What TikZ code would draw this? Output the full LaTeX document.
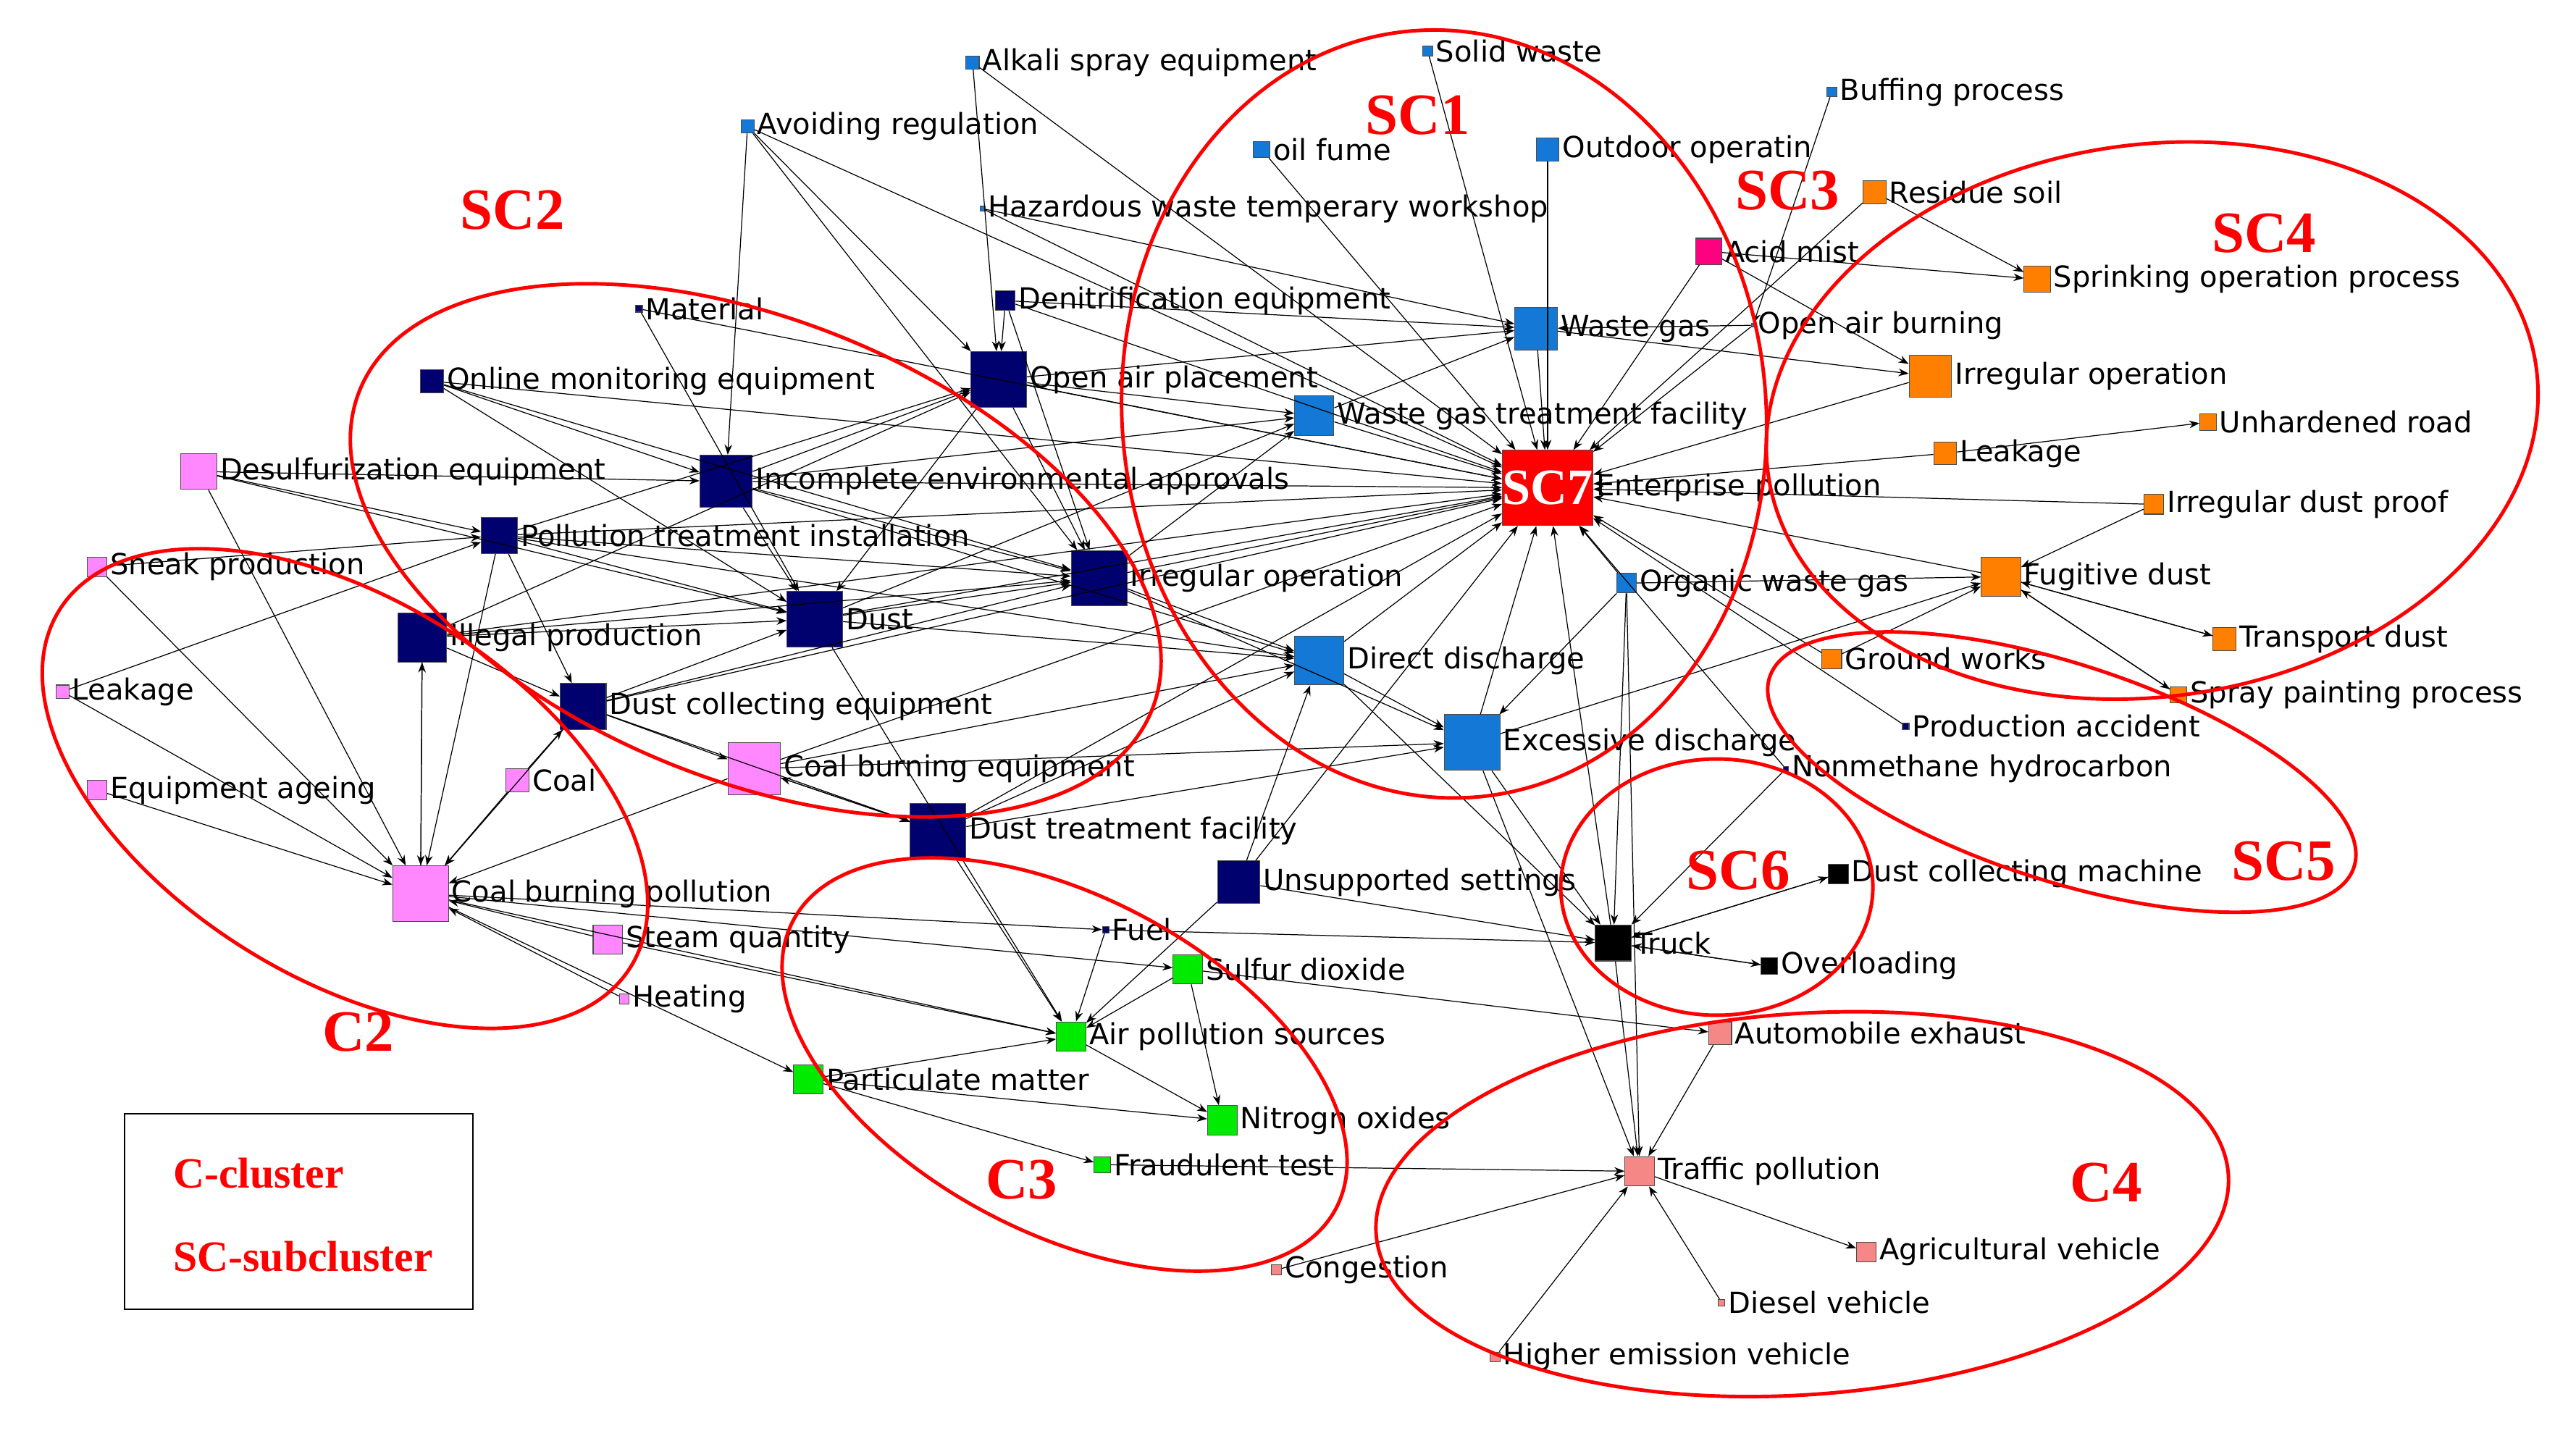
\documentclass[tikz,border=0pt]{standalone}
\usepackage{fontspec}
\setmainfont{DejaVu Sans}
\newfontfamily\ser{Liberation Serif}
\usetikzlibrary{arrows.meta}
\definecolor{cb}{RGB}{20,120,215}
\definecolor{cn}{RGB}{0,0,110}
\definecolor{cp}{RGB}{255,135,255}
\definecolor{co}{RGB}{255,128,0}
\definecolor{cm}{RGB}{255,0,128}
\definecolor{cg}{RGB}{0,235,0}
\definecolor{cs}{RGB}{245,135,135}
\definecolor{cr}{RGB}{255,0,0}
\tikzset{
 nd/.style 2 args={rectangle,fill=#1,draw=black!70,line width=0.3pt,minimum size=#2*0.643pt,inner sep=0pt},
 lab/.style={font=\fontsize{11.4}{13}\selectfont,inner sep=1pt},
 e/.style={line width=0.35pt,-{Stealth[length=4pt,width=3pt]}},
 cl/.style={draw=cr,line width=1.4pt},
 cll/.style={text=cr,font=\ser\bfseries\fontsize{23}{26}\selectfont},
}
\newcommand{\nn}[6]{\node[nd={#4}{#5},label={[lab]right:#6}] (#1) at (#2,#3) {};}
\begin{document}
\begin{tikzpicture}[x=0.02268cm,y=-0.02268cm]
\useasboundingbox (0,0) rectangle (1568,874);
\nn{alkali}{592}{38}{cb}{8}{Alkali spray equipment}
\nn{avoid}{455}{77}{cb}{8}{Avoiding regulation}
\nn{solid}{869}{31}{cb}{6}{Solid waste}
\nn{oil}{768}{91}{cb}{10}{oil fume}
\nn{outdoor}{942}{91}{cb}{14}{Outdoor operatin}
\nn{buff}{1115}{56}{cb}{6}{Buffing process}
\nn{hazard}{598}{127}{cb}{3}{Hazardous waste temperary workshop}
\nn{residue}{1141}{117}{co}{14}{Residue soil}
\nn{acid}{1040}{153}{cm}{16}{Acid mist}
\nn{sprink}{1240}{170}{co}{16}{Sprinking operation process}
\nn{material}{389}{188}{cn}{4}{Material}
\nn{denit}{612}{183}{cn}{12}{Denitrification equipment}
\nn{wastegas}{935}{200}{cb}{26}{Waste gas}
\nn{openburn}{1067}{198}{cb}{2}{Open air burning}
\nn{online}{263}{232}{cn}{14}{Online monitoring equipment}
\nn{openair}{608}{231}{cn}{34}{Open air placement}
\nn{irrop1}{1175}{229}{co}{26}{Irregular operation}
\nn{wgtf}{800}{253}{cb}{24}{Waste gas treatment facility}
\nn{desulf}{121}{287}{cp}{22}{Desulfurization equipment}
\nn{incomp}{442}{293}{cn}{32}{Incomplete environmental approvals}
\node[nd={cr}{46},label={[lab]right:Enterprise pollution},text=white,font=\ser\bfseries\fontsize{20}{22}\selectfont] (sc7) at (942,297) {SC7};
\nn{leako}{1184}{276}{co}{14}{Leakage}
\nn{unhard}{1344}{257}{co}{10}{Unhardened road}
\nn{irrdust}{1311}{307}{co}{12}{Irregular dust proof}
\nn{ptreat}{304}{326}{cn}{22}{Pollution treatment installation}
\nn{sneak}{59}{345}{cp}{12}{Sneak production}
\nn{irrop2}{669}{352}{cn}{34}{Irregular operation}
\nn{organic}{990}{355}{cb}{12}{Organic waste gas}
\nn{fugitive}{1218}{351}{co}{24}{Fugitive dust}
\nn{illegal}{257}{388}{cn}{30}{Illegal production}
\nn{dust}{496}{377}{cn}{34}{Dust}
\nn{transport}{1354}{389}{co}{14}{Transport dust}
\nn{direct}{803}{402}{cb}{30}{Direct discharge}
\nn{ground}{1115}{401}{co}{12}{Ground works}
\nn{spray}{1326}{423}{co}{10}{Spray painting process}
\nn{leakp}{38}{421}{cp}{8}{Leakage}
\nn{dustcoll}{355}{430}{cn}{28}{Dust collecting equipment}
\nn{prodacc}{1160}{442}{cn}{4}{Production accident}
\nn{excess}{896}{452}{cb}{34}{Excessive discharge}
\nn{nonmeth}{1087}{468}{cn}{3}{Nonmethane hydrocarbon}
\nn{cbe}{459}{468}{cp}{32}{Coal burning equipment}
\nn{coal}{315}{475}{cp}{14}{Coal}
\nn{equip}{59}{481}{cp}{12}{Equipment ageing}
\nn{dusttreat}{571}{506}{cn}{34}{Dust treatment facility}
\nn{dmach}{1119}{532}{black}{12}{Dust collecting machine}
\nn{unsup}{754}{537}{cn}{26}{Unsupported settings}
\nn{cbp}{256}{544}{cp}{34}{Coal burning pollution}
\nn{fuel}{673}{566}{cn}{4}{Fuel}
\nn{steam}{370}{572}{cp}{18}{Steam quantity}
\nn{truck}{982}{574}{black}{22}{Truck}
\nn{sulfur}{723}{590}{cg}{18}{Sulfur dioxide}
\nn{overl}{1077}{588}{black}{10}{Overloading}
\nn{heating}{380}{608}{cp}{6}{Heating}
\nn{airp}{652}{631}{cg}{18}{Air pollution sources}
\nn{auto}{1047}{629}{cs}{14}{Automobile exhaust}
\nn{partic}{492}{657}{cg}{18}{Particulate matter}
\nn{nitro}{744}{682}{cg}{18}{Nitrogn oxides}
\nn{fraud}{671}{709}{cg}{10}{Fraudulent test}
\nn{traffic}{998}{713}{cs}{18}{Traffic pollution}
\nn{agri}{1136}{762}{cs}{12}{Agricultural vehicle}
\nn{congest}{777}{773}{cs}{6}{Congestion}
\nn{diesel}{1048}{793}{cs}{4}{Diesel vehicle}
\nn{higher}{910}{826}{cs}{6}{Higher emission vehicle}
% edges into hub
\foreach \s in {wastegas,wgtf,openair,incomp,irrop2,direct,excess,organic,dust,denit,hazard,outdoor,solid,oil,ptreat,dusttreat,unsup,dustcoll,truck,acid,leako,irrop1,fugitive,openburn,avoid,alkali,online,illegal,cbe,ground,irrdust,prodacc,nonmeth,residue,material}
  \draw[e] (\s) -- (sc7);
\foreach \s/\t in {wgtf/wastegas,openair/wastegas,denit/wastegas,hazard/wastegas,incomp/wgtf,irrop2/wgtf,dust/wgtf,openair/wgtf,
 illegal/dust,dustcoll/dust,ptreat/dust,incomp/dust,online/dust,desulf/dust,openair/dust,material/dust,
 incomp/irrop2,ptreat/irrop2,dust/irrop2,dustcoll/irrop2,illegal/irrop2,online/irrop2,denit/irrop2,avoid/irrop2,
 dust/direct,irrop2/direct,incomp/direct,cbe/direct,dusttreat/direct,unsup/direct,ptreat/direct,
 irrop2/excess,direct/excess,dusttreat/excess,cbe/excess,organic/excess,
 sneak/cbp,leakp/cbp,equip/cbp,coal/cbp,illegal/cbp,cbe/cbp,steam/cbp,heating/cbp,desulf/cbp,ptreat/cbp,dustcoll/cbp,
 cbp/illegal,sneak/ptreat,leakp/ptreat,desulf/incomp,online/incomp,desulf/ptreat,
 dustcoll/cbe,illegal/dustcoll,ptreat/dustcoll,coal/dustcoll,cbe/dusttreat,dusttreat/cbe,dustcoll/dusttreat,
 cbp/partic,cbp/airp,cbp/sulfur,cbp/fuel,steam/airp,
 partic/airp,fuel/airp,dusttreat/airp,unsup/airp,sulfur/airp,airp/nitro,sulfur/nitro,partic/nitro,dust/airp,
 partic/fraud,fraud/traffic,
 truck/traffic,auto/traffic,congest/traffic,higher/traffic,diesel/traffic,traffic/agri,organic/traffic,excess/traffic,
 unsup/truck,excess/truck,overl/truck,dmach/truck,nonmeth/truck,organic/truck,direct/truck,truck/overl,truck/dmach,
 sulfur/auto,fuel/truck,
 ground/fugitive,transport/fugitive,spray/fugitive,irrdust/fugitive,fugitive/transport,fugitive/spray,leako/unhard,
 residue/sprink,acid/sprink,acid/irrop1,wastegas/irrop1,buff/openburn,openburn/wastegas,organic/fugitive,excess/fugitive,
 alkali/openair,avoid/incomp,avoid/openair,denit/openair,openair/irrop2,incomp/openair,illegal/openair,ptreat/openair}
  \draw[e] (\s) -- (\t);
% clusters
\draw[cl,rotate around={5:(879,252)}] (879,252) ellipse (196 and 234);
\draw[cl,rotate around={-22:(460,335)}] (460,335) ellipse (260 and 140);
\draw[cl,rotate around={8:(1310,256)}] (1310,256) ellipse (236 and 168);
\draw[cl,rotate around={-18:(1255,470)}] (1255,470) ellipse (187 and 66);
\draw[cl] (1045,540) ellipse (95 and 78);
\draw[cl,rotate around={-32:(210,480)}] (210,480) ellipse (205 and 115);
\draw[cl,rotate around={-28:(648,648)}] (648,648) ellipse (187 and 102);
\draw[cl,rotate around={4:(1097,733)}] (1097,733) ellipse (260 and 116);
\node[cll] (l1) at (863,70) {SC1};
\node[cll] (l2) at (312,128) {SC2};
\node[cll] (l3) at (1088,116) {SC3};
\node[cll] (l4) at (1378,142) {SC4};
\node[cll] (l5) at (1390,524) {SC5};
\node[cll] (l6) at (1058,530) {SC6};
\node[cll] (l7) at (218,628) {C2};
\node[cll] (l8) at (622,718) {C3};
\node[cll] (l9) at (1282,720) {C4};
\draw[line width=0.6pt] (76,678) rectangle (288,797);
\node[text=cr,font=\ser\bfseries\fontsize{17}{20}\selectfont,anchor=west] (lg1) at (100,714) {C-cluster};
\node[text=cr,font=\ser\bfseries\fontsize{17}{20}\selectfont,anchor=west] (lg2) at (100,765) {SC-subcluster};
\end{tikzpicture}
\end{document}
